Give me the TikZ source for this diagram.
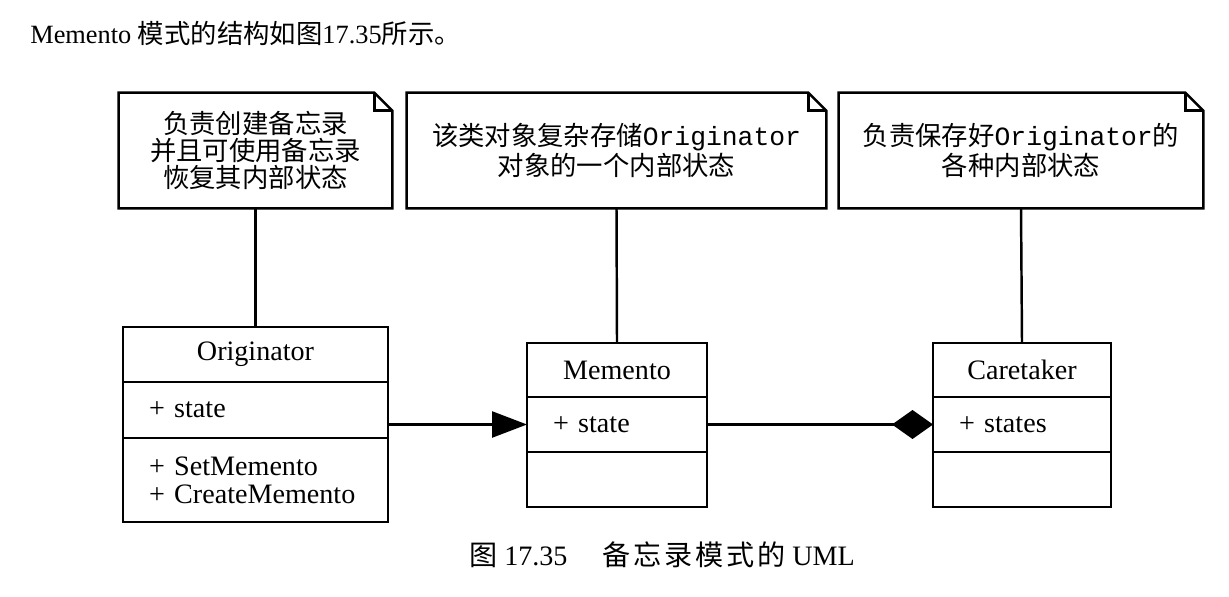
\documentclass[tikz,border=0pt]{standalone}
\usepackage{fontspec}
\setmainfont{Liberation Serif}
\setmonofont{Liberation Mono}
\newfontfamily\cjk{Noto Sans CJK SC}
\newfontfamily\cjkwide{Noto Sans CJK SC}[LetterSpace=10]
\usetikzlibrary{arrows.meta,positioning}

\tikzset{
  notebox/.style={minimum height=2.3cm, align=center, inner sep=0pt, font=\fontsize{15}{15.5}\selectfont},
  classhead/.style={draw, line width=1.5pt, inner sep=0pt, outer sep=0pt, font=\fontsize{16}{18}\selectfont},
  classpart/.style={draw, line width=1.5pt, align=left, inner xsep=0.52cm, inner ysep=0pt, outer sep=0pt, font=\fontsize{16}{16}\selectfont},
  link/.style={line width=1.4pt},
}

\begin{document}
\begin{tikzpicture}[x=0.02cm,y=-0.02cm]
            \useasboundingbox (0,0) rectangle (1229,596);

            %heading
            \node[anchor=base west, inner sep=0pt, font=\fontsize{15}{18}\selectfont] (title) at (30,43) {Memento {\cjk 模式的结构如图}17.35{\cjk 所示。}};

            %notes
            \node[notebox, minimum width=5.46cm] (origNote) at (255.5,150.5) {\cjk 负责创建备忘录\\\cjk 并且可使用备忘录\\\cjk 恢复其内部状态};

            \node[notebox, minimum width=8.38cm] (memNote) at (616.5,150.5) {{\cjk 该类对象复杂存储}\texttt{Originator}\\\cjk 对象的一个内部状态};

            \node[notebox, minimum width=7.28cm] (careNote) at (1021,150.5) {{\cjk 负责保存好}\texttt{Originator}{\cjk 的}\\\cjk 各种内部状态};

            \draw[link] (origNote.north west) -- ([xshift=-0.36cm]origNote.north east) -- ([yshift=-0.36cm]origNote.north east) -- (origNote.south east) -- (origNote.south west) -- cycle;
            \draw[link] ([xshift=-0.36cm]origNote.north east) -- ++(0,-0.36cm) -- ([yshift=-0.36cm]origNote.north east);

            \draw[link] (memNote.north west) -- ([xshift=-0.36cm]memNote.north east) -- ([yshift=-0.36cm]memNote.north east) -- (memNote.south east) -- (memNote.south west) -- cycle;
            \draw[link] ([xshift=-0.36cm]memNote.north east) -- ++(0,-0.36cm) -- ([yshift=-0.36cm]memNote.north east);

            \draw[link] (careNote.north west) -- ([xshift=-0.36cm]careNote.north east) -- ([yshift=-0.36cm]careNote.north east) -- (careNote.south east) -- (careNote.south west) -- cycle;
            \draw[link] ([xshift=-0.36cm]careNote.north east) -- ++(0,-0.36cm) -- ([yshift=-0.36cm]careNote.north east);

            %classes
            \node[classhead, minimum width=5.3cm, minimum height=1.1cm] (orig) at (255.5,354.5) {Originator};
            \node[classpart, text width=4.26cm, minimum height=1.12cm, below=0pt of orig] (origAttr) {+ state};
            \node[classpart, text width=4.26cm, minimum height=1.68cm, below=0pt of origAttr] (origOps) {+ SetMemento\\+ CreateMemento};

            \node[classhead, minimum width=3.6cm, minimum height=1.08cm] (mem) at (617,370) {Memento};
            \node[classpart, text width=2.56cm, minimum height=1.1cm, below=0pt of mem] (memAttr) {+ state};
            \node[classpart, text width=2.56cm, minimum height=1.1cm, below=0pt of memAttr] (memOps) {};

            \node[classhead, minimum width=3.56cm, minimum height=1.08cm] (care) at (1022,370) {Caretaker};
            \node[classpart, text width=2.52cm, minimum height=1.1cm, below=0pt of care] (careAttr) {+ states};
            \node[classpart, text width=2.52cm, minimum height=1.1cm, below=0pt of careAttr] (careOps) {};

            %links
            \draw[link] (origNote.south) -- (orig.north);
            \draw[link] (memNote.south) -- (mem.north);
            \draw[link] (careNote.south) -- (care.north);

            \draw[link, -{Triangle[length=0.7cm, width=0.52cm]}] (origAttr.east |- memAttr.west) -- (memAttr.west);
            \draw[link, -{Diamond[length=0.82cm, width=0.58cm]}] (memAttr.east) -- (careAttr.west);

            %caption
            \node[anchor=base, inner sep=0pt, font=\fontsize{16}{18}\selectfont] (caption) at (662,565) {{\cjkwide 图} 17.35\quad\ {\cjkwide 备忘录模式的} UML};
        \end{tikzpicture}
\end{document}
